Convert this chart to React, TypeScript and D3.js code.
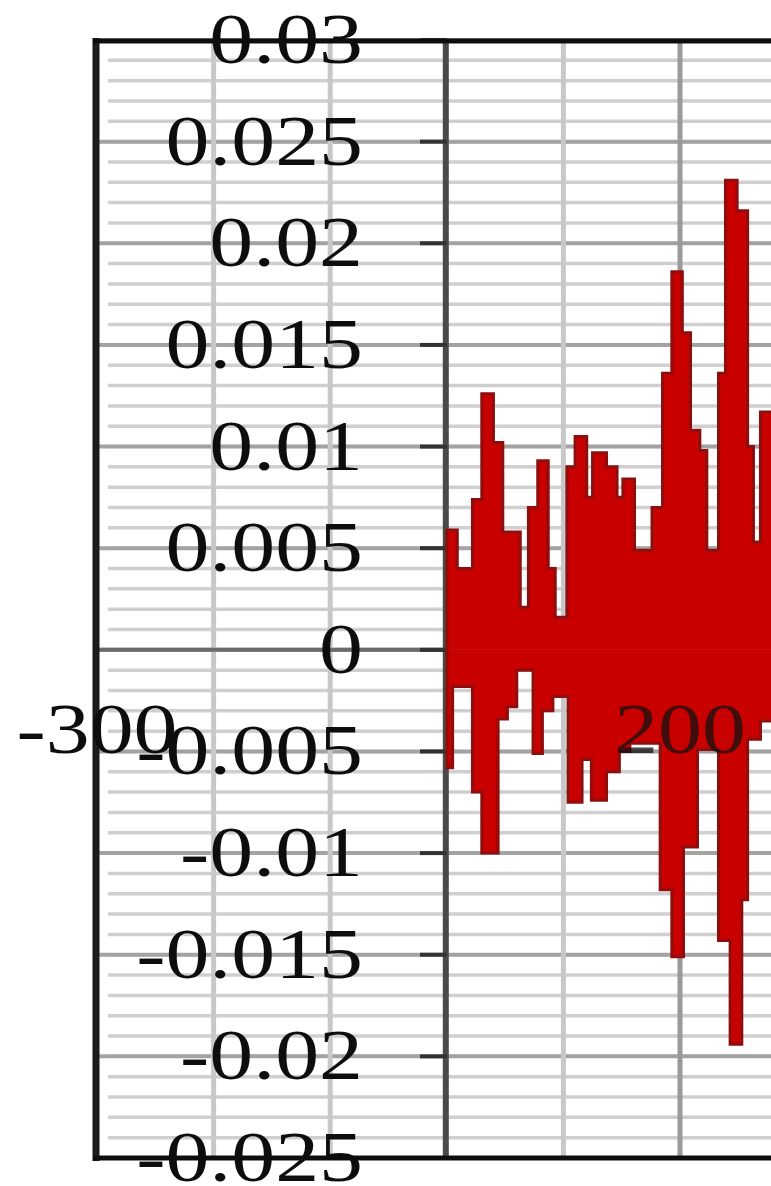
import React from 'react';
import * as d3 from 'd3';

// y axis ticks (major every 0.005)
const yTicks = [0.03, 0.025, 0.02, 0.015, 0.01, 0.005, 0, -0.005, -0.01, -0.015, -0.02, -0.025];
const yTickLabels = ['0.03', '0.025', '0.02', '0.015', '0.01', '0.005', '0', '-0.005', '-0.01', '-0.015', '-0.02', '-0.025'];

// x axis ticks (major every 500, minor grid every 100)
const xTicks = [-300, 200];
const xTickLabels = ['-300', '200'];
const xMinorGrid = [-200, -100, 100];

// signal: upper peaks (time, value) held until next time
const upperT = [0, 9, 22, 30, 40, 48, 63, 70, 78, 87, 93, 103, 110, 120, 125, 137, 146, 151, 161, 176, 185, 193, 202, 209, 217, 223, 233, 239, 249, 258, 263, 269];
const upperV = [0.0059, 0.004, 0.0074, 0.0126, 0.0102, 0.0058, 0.0021, 0.007, 0.0093, 0.004, 0.0016, 0.009, 0.0105, 0.0075, 0.0097, 0.009, 0.0075, 0.0084, 0.0049, 0.007, 0.0136, 0.0186, 0.0156, 0.0108, 0.0098, 0.0049, 0.0136, 0.0231, 0.0216, 0.01, 0.0053, 0.0117];

// signal: lower peaks
const lowerT = [0, 5, 22, 30, 44, 52, 60, 74, 82, 91, 104, 116, 124, 137, 148, 157, 183, 193, 203, 215, 233, 243, 253, 258, 269];
const lowerV = [-0.0058, -0.0018, -0.007, -0.01, -0.0034, -0.0028, -0.001, -0.0051, -0.003, -0.0023, -0.0075, -0.0054, -0.0074, -0.006, -0.005, -0.0046, -0.0118, -0.0151, -0.0097, -0.0049, -0.0143, -0.0194, -0.0123, -0.0044, -0.0035];

const END_T = 290;

const W = 771;
const H = 1186;
const FONT = '"Liberation Serif", "Times New Roman", serif';

const App: React.FC = () => {
  const x = d3.scaleLinear().domain([-300, 200]).range([97, 680]);
  const y = d3.scaleLinear().domain([-0.025, 0.03]).range([1158, 40]);

  const minorY = y.ticks(55);

  const toPts = (T: number[], V: number[]): [number, number][] => {
    const pts: [number, number][] = [[T[0], 0]];
    T.forEach((t, i) => pts.push([t, V[i]]));
    pts.push([END_T, V[V.length - 1]]);
    return pts;
  };
  const upPts = toPts(upperT, upperV);
  const loPts = toPts(lowerT, lowerV);

  const area = d3.area<[number, number]>()
    .x(d => x(d[0]))
    .y0(y(0))
    .y1(d => y(d[1]))
    .curve(d3.curveStepAfter);
  const line = d3.line<[number, number]>()
    .x(d => x(d[0]))
    .y(d => y(d[1]))
    .curve(d3.curveStepAfter);

  const labelX = 363;
  const sx = 1.22;

  return (
    <svg width={W} height={H} style={{ position: 'absolute', left: 0, top: 0, background: '#fff' }}>
      <defs>
        <filter id="soft" x="-5%" y="-5%" width="110%" height="110%">
          <feGaussianBlur stdDeviation="0.7" />
        </filter>
      </defs>
      <rect width={W} height={H} fill="#fff" />
      <g filter="url(#soft)">
        {/* minor horizontal grid */}
        {minorY.map((v, i) => (
          <line key={'mh' + i} x1={108} x2={W} y1={y(v)} y2={y(v)} stroke="#cfcfcf" strokeWidth={3.5} />
        ))}
        {/* major horizontal grid */}
        {yTicks.map((v, i) => (
          <line key={'Mh' + i} x1={97} x2={W} y1={y(v)} y2={y(v)} stroke="#a3a3a3" strokeWidth={4} />
        ))}
        {/* vertical grid */}
        {xMinorGrid.map((v, i) => (
          <line key={'mv' + i} x1={x(v)} x2={x(v)} y1={40} y2={1158} stroke="#c8c8c8" strokeWidth={5} />
        ))}
        {xTicks.filter(v => v !== -300).map((v, i) => (
          <line key={'Mv' + i} x1={x(v)} x2={x(v)} y1={40} y2={1158} stroke="#9a9a9a" strokeWidth={5} />
        ))}
        {/* zero line */}
        <line x1={97} x2={W} y1={y(0)} y2={y(0)} stroke="#6a6a6a" strokeWidth={4} />
        {/* y axis at x = 0 */}
        <line x1={x(0) - 1} x2={x(0) - 1} y1={40} y2={1158} stroke="#4a4a4a" strokeWidth={6} />
        {yTicks.map((v, i) => (
          <line key={'yt' + i} x1={420} x2={x(0)} y1={y(v)} y2={y(v)} stroke="#333" strokeWidth={4} />
        ))}
        {/* frame */}
        <line x1={96} x2={96} y1={38} y2={1161} stroke="#1a1a1a" strokeWidth={7} />
        <line x1={93} x2={W} y1={41} y2={41} stroke="#111" strokeWidth={5} />
        <line x1={93} x2={W} y1={1158} y2={1158} stroke="#111" strokeWidth={5} />

        {/* signal */}
        <path d={area(upPts) || ''} fill="#c80000" />
        <path d={area(loPts) || ''} fill="#c80000" />
        <path d={line(upPts) || ''} fill="none" stroke="#8e1010" strokeWidth={3} />
        <path d={line(loPts) || ''} fill="none" stroke="#8e1010" strokeWidth={3} />

        {/* y labels */}
        {yTicks.map((v, i) => (
          <text
            key={'yl' + i}
            transform={`translate(${labelX},${y(v) + 23}) scale(${sx},1)`}
            textAnchor="end"
            fontFamily={FONT}
            fontSize={72}
            fill="#111"
          >
            {yTickLabels[i]}
          </text>
        ))}
        {/* x labels */}
        {xTicks.map((v, i) => (
          <text
            key={'xl' + i}
            transform={`translate(${x(v)},${753}) scale(${sx},1)`}
            textAnchor="middle"
            fontFamily={FONT}
            fontSize={72}
            fill="#111"
            fillOpacity={v === 200 ? 0.75 : 1}
          >
            {xTickLabels[i]}
          </text>
        ))}
      </g>
    </svg>
  );
};

export default App;
